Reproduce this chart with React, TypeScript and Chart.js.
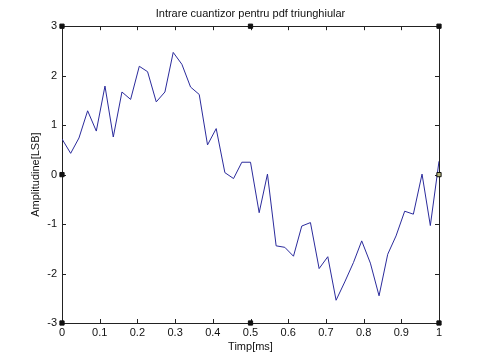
import { useEffect, useRef } from 'react';
import { Chart, registerables } from 'chart.js';

Chart.register(...registerables);

const TITLE = 'Intrare cuantizor pentru pdf triunghiular';
const X_LABEL = 'Timp[ms]';
const Y_LABEL = 'Amplitudine[LSB]';

const TIME_MS = [
  0, 0.023, 0.045, 0.068, 0.091, 0.114, 0.136, 0.159, 0.182, 0.205, 0.227,
  0.25, 0.273, 0.295, 0.318, 0.341, 0.364, 0.386, 0.409, 0.432, 0.455, 0.477,
  0.5, 0.523, 0.545, 0.568, 0.591, 0.614, 0.636, 0.659, 0.682, 0.705, 0.727,
  0.75, 0.773, 0.795, 0.818, 0.841, 0.864, 0.886, 0.909, 0.932, 0.955, 0.977, 1,
];

const AMPLITUDE = [
  0.72, 0.43, 0.74, 1.29, 0.88, 1.79, 0.76, 1.67, 1.52, 2.19, 2.08,
  1.47, 1.67, 2.47, 2.23, 1.77, 1.62, 0.6, 0.93, 0.04, -0.08, 0.25,
  0.25, -0.77, 0.01, -1.44, -1.47, -1.65, -1.04, -0.97, -1.9, -1.66, -2.54,
  -2.17, -1.78, -1.34, -1.79, -2.45, -1.61, -1.24, -0.74, -0.8, 0.01, -1.03, 0.27,
];

const X_TICKS = [0, 0.1, 0.2, 0.3, 0.4, 0.5, 0.6, 0.7, 0.8, 0.9, 1];
const Y_TICKS = [-3, -2, -1, 0, 1, 2, 3];

const HANDLE_X = [0, 0.5, 1, 0, 1, 0, 0.5, 1];
const HANDLE_Y = [3, 3, 3, 0, 0, -3, -3, -3];
const HANDLE_FILL = ['#111', '#111', '#111', '#111', '#b8b878', '#111', '#111', '#111'];

const FONT = { family: '"Liberation Sans", Arial, Helvetica, sans-serif', size: 11, weight: 'normal' as const };

const framePlugin = {
  id: 'matlabFrame',
  beforeDatasetsDraw(chart: any) {
    const { ctx, chartArea: a, scales } = chart;
    const xs = scales.x;
    const ys = scales.y;
    ctx.save();
    ctx.strokeStyle = '#222';
    ctx.lineWidth = 1;
    ctx.beginPath();
    const tl = 4;
    X_TICKS.forEach((v) => {
      const px = Math.round(xs.getPixelForValue(v)) + 0.5;
      ctx.moveTo(px, a.bottom);
      ctx.lineTo(px, a.bottom - tl);
      ctx.moveTo(px, a.top);
      ctx.lineTo(px, a.top + tl);
    });
    Y_TICKS.forEach((v) => {
      const py = Math.round(ys.getPixelForValue(v)) + 0.5;
      ctx.moveTo(a.left, py);
      ctx.lineTo(a.left + tl, py);
      ctx.moveTo(a.right, py);
      ctx.lineTo(a.right - tl, py);
    });
    ctx.stroke();
    ctx.beginPath();
    ctx.rect(Math.round(a.left) + 0.5, Math.round(a.top) + 0.5, Math.round(a.right - a.left), Math.round(a.bottom - a.top));
    ctx.stroke();
    ctx.restore();
  },
};

export default function App() {
  const ref = useRef<HTMLCanvasElement | null>(null);

  useEffect(() => {
    if (!ref.current) return;
    const lineData = TIME_MS.map((t, i) => ({ x: t, y: AMPLITUDE[i] }));
    const handleData = HANDLE_X.map((x, i) => ({ x, y: HANDLE_Y[i] }));
    const chart = new Chart(ref.current, {
      type: 'scatter',
      data: {
        datasets: [
          {
            label: 'handles',
            data: handleData,
            pointStyle: 'rect',
            pointRadius: 3,
            pointBackgroundColor: HANDLE_FILL,
            pointBorderColor: '#111',
            pointBorderWidth: 1,
            showLine: false,
            clip: false as any,
            order: 0,
          },
          {
            label: 'semnal',
            data: lineData,
            showLine: true,
            borderColor: '#2b2b9c',
            borderWidth: 1,
            pointRadius: 0,
            tension: 0,
            order: 1,
          },
        ],
      },
      options: {
        responsive: false,
        animation: false,
        events: [],
        layout: { padding: { top: 0, right: 41, bottom: 0, left: 0 } },
        plugins: {
          legend: { display: false },
          tooltip: { enabled: false },
          title: {
            display: true,
            text: TITLE,
            color: '#111',
            font: FONT,
            fullSize: false,
            padding: { top: 7, bottom: 6 },
          },
        },
        scales: {
          x: {
            type: 'linear',
            min: 0,
            max: 1,
            afterFit: (s: any) => { s.height = 37; },
            afterBuildTicks: (s: any) => { s.ticks = X_TICKS.map((v) => ({ value: v })); },
            grid: { display: false, drawTicks: false },
            border: { display: false },
            ticks: {
              color: '#111',
              font: FONT,
              padding: 3,
              maxRotation: 0,
              autoSkip: false,
              callback: (v: any) => String(Number(Number(v).toFixed(1))),
            },
            title: { display: true, text: X_LABEL, color: '#111', font: FONT, padding: { top: 0, bottom: 6 } },
          },
          y: {
            type: 'linear',
            min: -3,
            max: 3,
            afterFit: (s: any) => { s.width = 62; },
            afterBuildTicks: (s: any) => { s.ticks = Y_TICKS.map((v) => ({ value: v })); },
            grid: { display: false, drawTicks: false },
            border: { display: false },
            ticks: {
              color: '#111',
              font: FONT,
              padding: 5,
              autoSkip: false,
              callback: (v: any) => String(Number(v)),
            },
            title: { display: true, text: Y_LABEL, color: '#111', font: FONT, padding: { top: 29, bottom: 0 } },
          },
        },
      },
      plugins: [framePlugin],
    });
    return () => chart.destroy();
  }, []);

  return (
    <div style={{ position: 'fixed', left: 0, top: 0, width: 480, height: 360, background: '#fff' }}>
      <canvas ref={ref} width={480} height={360} />
    </div>
  );
}
